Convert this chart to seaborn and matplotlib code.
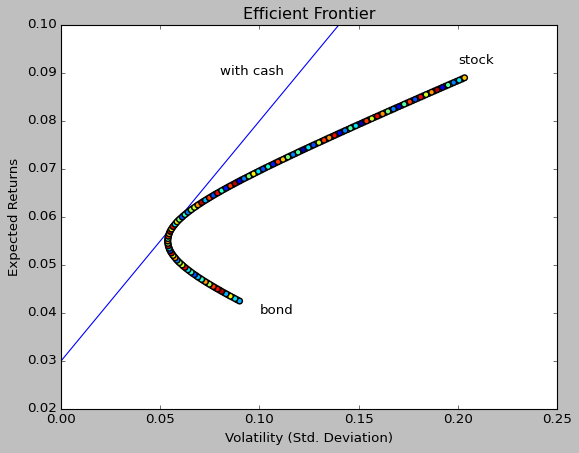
import numpy as np
import pandas as pd
import matplotlib
matplotlib.use("Agg")
import matplotlib.pyplot as plt
import seaborn as sns

# frontier points (expected return, volatility)
frontier_ret = [0.04250, 0.04275, 0.04300, 0.04325, 0.04350, 0.04375, 0.04400, 0.04425, 0.04450, 0.04475,
                0.04500, 0.04525, 0.04550, 0.04575, 0.04600, 0.04625, 0.04650, 0.04675, 0.04700, 0.04725,
                0.04750, 0.04775, 0.04800, 0.04825, 0.04850, 0.04875, 0.04900, 0.04925, 0.04950, 0.04975,
                0.05000, 0.05025, 0.05050, 0.05075, 0.05100, 0.05125, 0.05150, 0.05175, 0.05200, 0.05225,
                0.05250, 0.05275, 0.05300, 0.05325, 0.05350, 0.05375, 0.05400, 0.05425, 0.05450, 0.05475,
                0.05500, 0.05525, 0.05550, 0.05575, 0.05600, 0.05625, 0.05650, 0.05675, 0.05700, 0.05725,
                0.05750, 0.05775, 0.05800, 0.05825, 0.05850, 0.05875, 0.05900, 0.05925, 0.05950, 0.05975,
                0.06000, 0.06025, 0.06050, 0.06075, 0.06100, 0.06125, 0.06150, 0.06175, 0.06200, 0.06225,
                0.06250, 0.06275, 0.06300, 0.06325, 0.06350, 0.06375, 0.06400, 0.06425, 0.06450, 0.06475,
                0.06500, 0.06525, 0.06550, 0.06575, 0.06600, 0.06625, 0.06650, 0.06675, 0.06700, 0.06725,
                0.06750, 0.06775, 0.06800, 0.06825, 0.06850, 0.06875, 0.06900, 0.06925, 0.06950, 0.06975,
                0.07000, 0.07025, 0.07050, 0.07075, 0.07100, 0.07125, 0.07150, 0.07175, 0.07200, 0.07225,
                0.07250, 0.07275, 0.07300, 0.07325, 0.07350, 0.07375, 0.07400, 0.07425, 0.07450, 0.07475,
                0.07500, 0.07525, 0.07550, 0.07575, 0.07600, 0.07625, 0.07650, 0.07675, 0.07700, 0.07725,
                0.07750, 0.07775, 0.07800, 0.07825, 0.07850, 0.07875, 0.07900, 0.07925, 0.07950, 0.07975,
                0.08000, 0.08025, 0.08050, 0.08075, 0.08100, 0.08125, 0.08150, 0.08175, 0.08200, 0.08225,
                0.08250, 0.08275, 0.08300, 0.08325, 0.08350, 0.08375, 0.08400, 0.08425, 0.08450, 0.08475,
                0.08500, 0.08525, 0.08550, 0.08575, 0.08600, 0.08625, 0.08650, 0.08675, 0.08700, 0.08725,
                0.08750, 0.08775, 0.08800, 0.08825, 0.08850, 0.08875, 0.08900]
frontier_vol = [0.0900, 0.0888, 0.0877, 0.0866, 0.0854, 0.0843, 0.0832, 0.0821, 0.0810, 0.0800,
                0.0789, 0.0778, 0.0768, 0.0758, 0.0748, 0.0738, 0.0728, 0.0718, 0.0709, 0.0700,
                0.0690, 0.0682, 0.0673, 0.0664, 0.0656, 0.0648, 0.0640, 0.0632, 0.0625, 0.0617,
                0.0611, 0.0604, 0.0597, 0.0591, 0.0585, 0.0580, 0.0575, 0.0570, 0.0565, 0.0561,
                0.0557, 0.0553, 0.0550, 0.0547, 0.0545, 0.0543, 0.0541, 0.0540, 0.0539, 0.0538,
                0.0538, 0.0538, 0.0539, 0.0540, 0.0541, 0.0543, 0.0545, 0.0547, 0.0550, 0.0553,
                0.0557, 0.0561, 0.0565, 0.0570, 0.0575, 0.0580, 0.0585, 0.0591, 0.0597, 0.0604,
                0.0611, 0.0617, 0.0625, 0.0632, 0.0640, 0.0648, 0.0656, 0.0664, 0.0673, 0.0682,
                0.0690, 0.0700, 0.0709, 0.0718, 0.0728, 0.0738, 0.0748, 0.0758, 0.0768, 0.0778,
                0.0789, 0.0800, 0.0810, 0.0821, 0.0832, 0.0843, 0.0854, 0.0866, 0.0877, 0.0888,
                0.0900, 0.0911, 0.0923, 0.0935, 0.0947, 0.0959, 0.0971, 0.0983, 0.0995, 0.1007,
                0.1019, 0.1031, 0.1044, 0.1056, 0.1069, 0.1081, 0.1094, 0.1106, 0.1119, 0.1132,
                0.1144, 0.1157, 0.1170, 0.1183, 0.1195, 0.1208, 0.1221, 0.1234, 0.1247, 0.1260,
                0.1273, 0.1286, 0.1300, 0.1313, 0.1326, 0.1339, 0.1352, 0.1366, 0.1379, 0.1392,
                0.1405, 0.1419, 0.1432, 0.1446, 0.1459, 0.1472, 0.1486, 0.1499, 0.1513, 0.1526,
                0.1540, 0.1553, 0.1567, 0.1580, 0.1594, 0.1608, 0.1621, 0.1635, 0.1648, 0.1662,
                0.1676, 0.1689, 0.1703, 0.1717, 0.1730, 0.1744, 0.1758, 0.1772, 0.1785, 0.1799,
                0.1813, 0.1827, 0.1840, 0.1854, 0.1868, 0.1882, 0.1896, 0.1910, 0.1923, 0.1937,
                0.1951, 0.1965, 0.1979, 0.1993, 0.2007, 0.2021, 0.2034]
# marker colour values (jet colormap)
dot_colour = [0.30, 0.25, 0.35, 0.40, 0.65, 0.45, 0.30, 0.70, 0.95, 0.10,
              0.90, 0.80, 0.85, 0.15, 0.55, 0.20, 0.75, 0.10, 0.40, 0.35,
              0.30, 0.60, 0.20, 0.10, 0.40, 0.45, 0.35, 0.50, 0.90, 0.80,
              0.60, 0.85, 0.55, 0.90, 0.25, 0.95, 0.75, 0.70, 0.65, 0.30,
              0.90, 0.80, 0.20, 0.70, 0.35, 0.15, 0.90, 0.60, 0.55, 0.95,
              0.75, 0.10, 0.45, 0.30, 0.85, 0.05, 0.70, 0.55, 0.95, 0.20,
              0.65, 0.45, 0.90, 0.10, 0.35, 0.05, 0.65, 0.30, 0.50, 0.85,
              0.20, 0.70, 0.40, 0.45, 0.25, 0.15, 0.55, 0.80, 0.60, 0.90,
              0.75, 0.50, 0.95, 0.70, 0.30, 0.10, 0.85, 0.55, 0.20, 0.60,
              0.90, 0.35, 0.40, 0.75, 0.15, 0.60, 0.85, 0.30, 0.95, 0.45,
              0.10, 0.70, 0.25, 0.80, 0.50, 0.05, 0.65, 0.90, 0.35, 0.55,
              0.20, 0.75, 0.40, 0.95, 0.15, 0.60, 0.85, 0.30, 0.70, 0.10,
              0.50, 0.90, 0.25, 0.65, 0.45, 0.80, 0.05, 0.55, 0.35, 0.95,
              0.20, 0.70, 0.60, 0.15, 0.85, 0.40, 0.75, 0.30, 0.90, 0.50,
              0.10, 0.65, 0.25, 0.80, 0.45, 0.95, 0.35, 0.55, 0.05, 0.70,
              0.85, 0.20, 0.60, 0.40, 0.90, 0.15, 0.75, 0.30, 0.50, 0.95,
              0.25, 0.65, 0.10, 0.80, 0.45, 0.35, 0.85, 0.55, 0.20, 0.70,
              0.90, 0.40, 0.60, 0.15, 0.75, 0.30, 0.95, 0.50, 0.10, 0.85,
              0.45, 0.65, 0.25, 0.80, 0.35, 0.90, 0.70]

# capital market line with cash
cash_vol = [0.0, 0.25]
cash_ret = [0.030, 0.155]

df = pd.DataFrame({"vol": frontier_vol, "ret": frontier_ret, "c": dot_colour})

plt.style.use("classic")
fig = plt.figure(figsize=(579 / 80, 453 / 80), dpi=80)
ax = fig.add_axes([61 / 579, 44 / 453, 496 / 579, 384 / 453])

sns.lineplot(x=cash_vol, y=cash_ret, color="b", linewidth=1, ax=ax)
jet = matplotlib.colormaps["jet"]
# in-between points first, so the others sit on top as whole dots
for part in (df.iloc[1::2], df.iloc[0::2]):
    sns.scatterplot(data=part, x="vol", y="ret", hue="c", palette=jet,
                    hue_norm=(0, 1), s=26, edgecolor="black", linewidth=1.3, legend=False,
                    ax=ax, zorder=3)

ax.text(0.08, 0.0895, "with cash", fontsize=12)
ax.text(0.20, 0.0918, "stock", fontsize=12)
ax.text(0.10, 0.0398, "bond", fontsize=12)

ax.set_xlim(0, 0.25)
ax.set_ylim(0.02, 0.10)
ax.set_xlabel("Volatility (Std. Deviation)")
ax.set_ylabel("Expected Returns")
ax.set_title("Efficient Frontier")

fig.savefig("out.png", dpi=80, facecolor=fig.get_facecolor())
